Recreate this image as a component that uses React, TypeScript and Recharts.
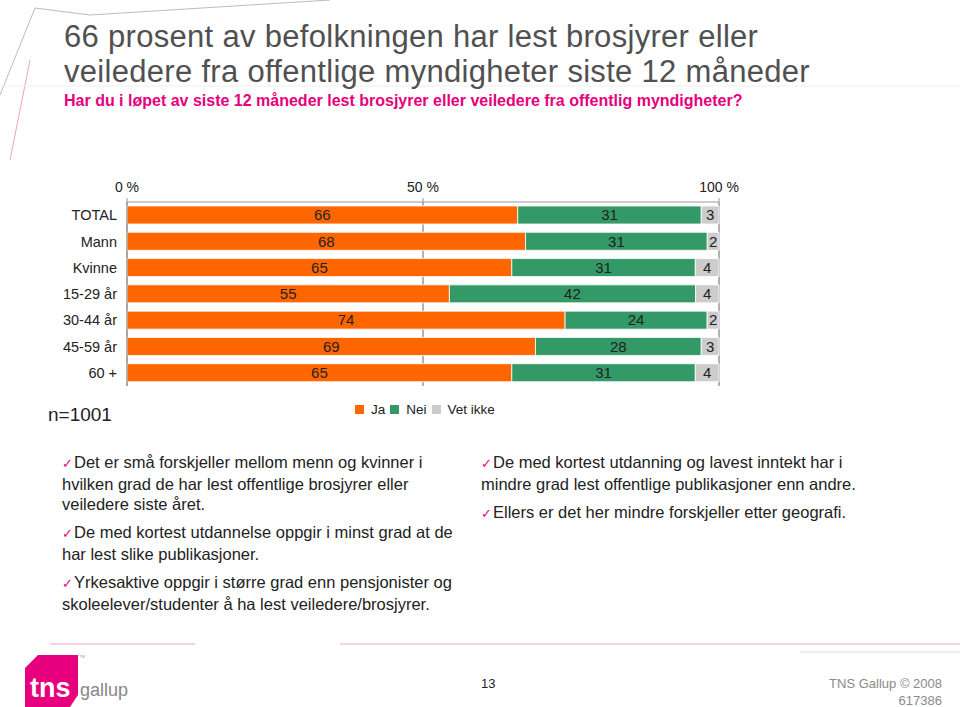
import { Bar, BarChart, CartesianGrid, LabelList, XAxis, YAxis } from "recharts";

const groups = ["TOTAL", "Mann", "Kvinne", "15-29 år", "30-44 år", "45-59 år", "60 +"];
const ja = [66, 68, 65, 55, 74, 69, 65];
const nei = [31, 31, 31, 42, 24, 28, 31];
const vetIkke = [3, 2, 4, 4, 2, 3, 4];
const xTicks = [0, 0.5, 1];

const series = [
  { key: "ja", name: "Ja", color: "#ff6600" },
  { key: "nei", name: "Nei", color: "#339966" },
  { key: "vet", name: "Vet ikke", color: "#cccccc" },
];

const data = groups.map((g, i) => ({ group: g, ja: ja[i], nei: nei[i], vet: vetIkke[i] }));

const leftNotes = [
  ["Det er små forskjeller mellom menn og kvinner i", "hvilken grad de har lest offentlige brosjyrer eller", "veiledere siste året."],
  ["De med kortest utdannelse oppgir i minst grad at de", "har lest slike publikasjoner."],
  ["Yrkesaktive oppgir i større grad enn pensjonister og", "skoleelever/studenter å ha lest veiledere/brosjyrer."],
];
const rightNotes = [
  ["De med kortest utdanning og lavest inntekt har i", "mindre grad lest offentlige publikasjoner enn andre."],
  ["Ellers er det her mindre forskjeller etter geografi."],
];

const font = "'Liberation Sans', Arial, sans-serif";
const MAGENTA = "#e6007e";

function Notes({ items, left }: { items: string[][]; left: number }) {
  return (
    <div style={{ position: "absolute", left, top: 452, fontSize: 16.5, lineHeight: "20px", color: "#222" }}>
      {items.map((lines, i) => (
        <div key={i} style={{ marginBottom: 8 }}>
          {lines.map((l, j) => (
            <div key={j} style={{ whiteSpace: "nowrap" }}>
              {j === 0 && <span style={{ color: MAGENTA, fontSize: 13, marginRight: 1 }}>✓</span>}
              {l}
            </div>
          ))}
        </div>
      ))}
    </div>
  );
}

export default function App() {
  return (
    <div style={{ position: "absolute", left: 0, top: 0, width: 960, height: 707, background: "#fff", fontFamily: font, overflow: "hidden" }}>
      {/* faint decoration */}
      <svg width={960} height={707} style={{ position: "absolute", left: 0, top: 0 }}>
        <polyline points="0,95 35,8 90,15 330,0" fill="none" stroke="#bbb" strokeWidth={1} />
        <line x1={10} y1={160} x2={30} y2={60} stroke="#f3a0cc" strokeWidth={1} />
        <line x1={0} y1={86} x2={960} y2={86} stroke="#eee" strokeWidth={1} />
        <line x1={50} y1={644} x2={195} y2={644} stroke="#f2d4e4" strokeWidth={2} />
        <line x1={340} y1={644} x2={960} y2={644} stroke="#f2d4e4" strokeWidth={2} />
        <line x1={800} y1={652} x2={960} y2={652} stroke="#f2d4e4" strokeWidth={1} />
      </svg>

      <div style={{ position: "absolute", left: 64, top: 19, fontSize: 31, lineHeight: "35px", letterSpacing: 0.3, color: "#505050", whiteSpace: "nowrap" }}>
        <div>66 prosent av befolkningen har lest brosjyrer eller</div>
        <div>veiledere fra offentlige myndigheter siste 12 måneder</div>
      </div>
      <div style={{ position: "absolute", left: 64, top: 92, fontSize: 16, fontWeight: "bold", color: MAGENTA, whiteSpace: "nowrap" }}>
        Har du i løpet av siste 12 måneder lest brosjyrer eller veiledere fra offentlig myndigheter?
      </div>

      <div style={{ position: "absolute", left: 0, top: 170 }}>
        <BarChart
          width={960}
          height={216}
          data={data}
          layout="vertical"
          stackOffset="expand"
          barSize={18}
          margin={{ top: 0, right: 241, bottom: 0, left: 0 }}
        >
          <CartesianGrid horizontal={false} stroke="#666" />
          <XAxis
            type="number"
            orientation="top"
            domain={[0, 1]}
            ticks={xTicks}
            height={32}
            tickSize={4}
            tickMargin={6}
            stroke="#999"
            tick={{ fill: "#222", fontSize: 14, fontFamily: font }}
            tickFormatter={(v) => `${Math.round(v * 100)} %`}
          />
          <YAxis
            type="category"
            dataKey="group"
            width={127}
            tickLine={false}
            tickSize={4}
            tickMargin={6}
            stroke="#999"
            tick={{ fill: "#222", fontSize: 14.5, fontFamily: font }}
          />
          {series.map((s) => (
            <Bar key={s.key} dataKey={s.key} name={s.name} stackId="a" fill={s.color} stroke="#fff" strokeWidth={0.8} isAnimationActive={false}>
              <LabelList dataKey={s.key} position="center" fill="#222" fontSize={15} fontFamily={font} />
            </Bar>
          ))}
        </BarChart>
      </div>

      <div style={{ position: "absolute", left: 48, top: 404, fontSize: 19, color: "#222" }}>n=1001</div>
      <div style={{ position: "absolute", left: 355, top: 402, display: "flex", alignItems: "center", fontSize: 13.5, color: "#222" }}>
        {series.map((s) => (
          <span key={s.key} style={{ display: "flex", alignItems: "center", marginRight: 5 }}>
            <span style={{ width: 9, height: 9, background: s.color, display: "inline-block", marginRight: 7 }} />
            {s.name}
          </span>
        ))}
      </div>

      <Notes items={leftNotes} left={62} />
      <Notes items={rightNotes} left={481} />

      {/* logo */}
      <svg width={120} height={60} style={{ position: "absolute", left: 20, top: 650 }}>
        <polygon points="18,5 58,5 58,45 50,57 5,57 5,18" fill={MAGENTA} />
        <text x={59} y={8} fontSize={4} fill="#999">TM</text>
        <text x={10} y={47} fontSize={27} fontWeight="bold" fill="#fff" fontFamily={font}>tns</text>
        <text x={60} y={46} fontSize={18} fill="#888" fontFamily={font}>gallup</text>
      </svg>

      <div style={{ position: "absolute", left: 481, top: 676, fontSize: 13, color: "#222" }}>13</div>
      <div style={{ position: "absolute", right: 18, top: 675, fontSize: 13, lineHeight: "17px", color: "#8a8a8a", textAlign: "right" }}>
        TNS Gallup © 2008
        <br />
        617386
      </div>
    </div>
  );
}
